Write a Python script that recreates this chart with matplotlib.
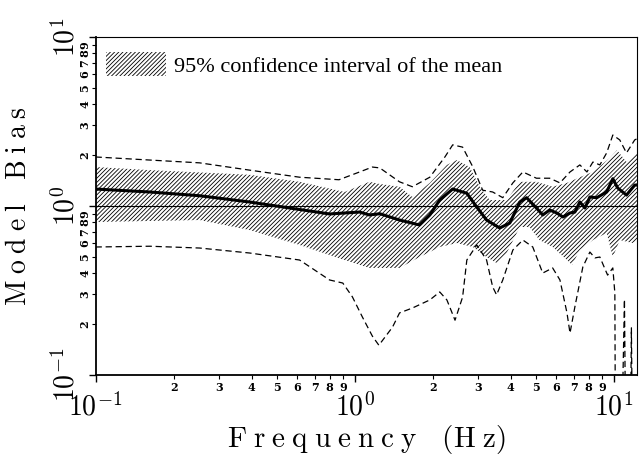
import numpy as np
import matplotlib
matplotlib.use('Agg')
import matplotlib.pyplot as plt
import matplotlib.ticker as mticker
from matplotlib.patches import Patch

plt.rcParams['mathtext.fontset'] = 'cm'
plt.rcParams['hatch.linewidth'] = 0.6

# mean model bias
f_mean = [0.1, 0.162, 0.252, 0.393, 0.561, 0.80, 1.045, 1.14, 1.25, 1.49, 1.78, 1.95,
          2.13, 2.39, 2.71, 2.96, 3.23, 3.63, 3.97, 4.34, 4.61, 5.03, 5.32, 5.66, 6.03,
          6.37, 6.78, 7.08, 7.4, 7.74, 8.09, 8.6, 9.39, 9.92, 10.35, 11.2, 12.05, 12.3]
bias_mean = [1.26, 1.21, 1.15, 1.056, 0.973, 0.897, 0.921, 0.885, 0.90, 0.826, 0.772, 0.885,
             1.085, 1.26, 1.19, 0.986, 0.826, 0.741, 0.793, 1.056, 1.12, 0.973, 0.885, 0.947, 0.909,
             0.861, 0.909, 0.921, 1.056, 0.973, 1.13, 1.12, 1.21, 1.45, 1.28, 1.16, 1.33, 1.33]

# 95% confidence interval of the mean (hatched band)
f_band_hi = [0.1, 0.162, 0.393, 0.613, 0.915, 1.14, 1.25, 1.49, 1.67, 1.95, 2.27, 2.48,
             2.78, 3.04, 3.32, 3.86, 4.34, 5.03, 5.81, 6.6, 7.4, 8.31, 9.65, 10.3, 11.2, 12.3]
band_hi = [1.70, 1.63, 1.53, 1.39, 1.21, 1.39, 1.35, 1.30, 1.13, 1.37, 1.75, 1.87,
           1.70, 1.30, 1.085, 1.085, 1.39, 1.39, 1.30, 1.37, 1.48, 1.59, 1.92, 2.14, 1.82, 2.06]
f_band_lo = [0.1, 0.252, 0.393, 0.613, 0.915, 1.14, 1.49, 1.78, 2.13, 2.48, 2.86, 3.23,
             3.53, 3.86, 4.34, 4.73, 5.17, 5.81, 6.6, 6.9, 7.4, 8.31, 9.39, 9.92, 10.55, 11.8, 12.3]
band_lo = [0.804, 0.826, 0.721, 0.588, 0.479, 0.43, 0.43, 0.499, 0.572, 0.604, 0.572, 0.499,
           0.46, 0.527, 0.751, 0.751, 0.629, 0.572, 0.479, 0.448, 0.549, 0.629, 0.692, 0.499, 0.629, 0.604, 0.62]

# dashed outer limits
f_up = [0.1, 0.162, 0.252, 0.393, 0.613, 0.87, 1.045, 1.17, 1.25, 1.49, 1.67, 1.95, 2.23,
        2.39, 2.61, 2.86, 3.12, 3.41, 3.73, 4.08, 4.46, 5.03, 5.66, 6.2, 6.78, 7.4, 7.88,
        8.31, 8.84, 9.39, 9.92, 10.55, 11.2, 12.05, 12.3]
dash_up = [1.95, 1.87, 1.80, 1.63, 1.48, 1.43, 1.59, 1.70, 1.68, 1.39, 1.30, 1.48, 1.95,
           2.30, 2.23, 1.70, 1.24, 1.21, 1.12, 1.37, 1.59, 1.46, 1.46, 1.37, 1.59, 1.75, 1.59,
           1.82, 1.75, 2.06, 2.63, 2.46, 2.06, 2.46, 2.5]
f_lo = [0.1, 0.162, 0.252, 0.393, 0.613, 0.80, 0.90, 0.98, 1.07, 1.17, 1.24, 1.40, 1.49,
        1.67, 1.95, 2.13, 2.27, 2.44, 2.61, 2.71, 2.96, 3.23, 3.41, 3.53, 3.73, 4.08, 4.46,
        4.87, 5.32, 5.81, 6.2, 6.6, 6.78, 7.08, 7.6, 8.09, 8.46, 8.84, 9.47, 9.92, 10.1,
        10.25, 11.0, 11.35, 11.7, 12.1]
dash_lo = [0.572, 0.578, 0.564, 0.527, 0.479, 0.365, 0.35, 0.29, 0.221, 0.17, 0.15, 0.192, 0.233,
           0.249, 0.278, 0.31, 0.278, 0.211, 0.289, 0.479, 0.588, 0.479, 0.332, 0.298, 0.365, 0.549, 0.629,
           0.572, 0.401, 0.43, 0.365, 0.233, 0.177, 0.253, 0.436, 0.534, 0.493, 0.499, 0.39, 0.43, 0.306,
           0.001, 0.28, 0.001, 0.19, 0.001]

fig = plt.figure(figsize=(6.39, 4.67), dpi=100)
ax = fig.add_axes([0.1496, 0.197, 0.8473, 0.7238])

band_x = np.concatenate([f_band_hi, f_band_lo[::-1]])
band_y = np.concatenate([band_hi, band_lo[::-1]])
ax.fill(band_x, band_y, facecolor='none', edgecolor='black', hatch='////////', linewidth=0)

ax.plot(f_up, dash_up, color='black', linestyle=(0, (5, 3)), linewidth=0.9)
ax.plot(f_lo, dash_lo, color='black', linestyle=(0, (5, 3)), linewidth=0.9)
ax.axhline(1.0, color='black', linewidth=0.8)
ax.plot(f_mean, bias_mean, color='black', linewidth=2.2)

ax.set_xscale('log')
ax.set_yscale('log')
ax.set_xlim(0.1, 12.3)
ax.set_ylim(0.1, 10)

def major_fmt(v, pos):
    return r'$10^{%d}$' % int(round(np.log10(v)))

def minor_fmt(v, pos):
    d = int(round(v / 10 ** np.floor(np.log10(v) + 1e-9)))
    return str(d)

for axis in (ax.xaxis, ax.yaxis):
    axis.set_major_locator(mticker.LogLocator(base=10))
    axis.set_minor_locator(mticker.LogLocator(base=10, subs=np.arange(2, 10)))
    axis.set_major_formatter(mticker.FuncFormatter(major_fmt))
    axis.set_minor_formatter(mticker.FuncFormatter(minor_fmt))

ax.tick_params(which='major', labelsize=20, length=5, width=1)
ax.tick_params(which='minor', labelsize=8, length=3, width=0.8)
ax.tick_params(axis='x', which='major', pad=8)
ax.tick_params(axis='x', which='minor', pad=2)
ax.tick_params(axis='y', which='major', pad=6)
ax.tick_params(axis='y', which='minor', pad=1)
for lab in ax.yaxis.get_ticklabels(which='both'):
    lab.set_rotation(90)
    lab.set_va('center')
for lab in ax.get_xticklabels(minor=True) + ax.get_yticklabels(minor=True):
    lab.set_fontweight('bold')
    lab.set_family('DejaVu Serif')

for side in ['left', 'bottom']:
    ax.spines[side].set_linewidth(1.3)
for side in ['top', 'right']:
    ax.spines[side].set_linewidth(0.8)

ax.set_xlabel(r'$\mathrm{F\;r\;e\;q\;u\;e\;n\;c\;y\ \ \ (H\;z)}$', fontsize=21)
ax.set_ylabel(r'$\mathrm{M\;o\;d\;e\;l\ \ \ B\;i\;a\;s}$', fontsize=20)
ax.xaxis.set_label_coords(0.4995, -0.142)
ax.yaxis.set_label_coords(-0.1175, 0.5)

handle = Patch(facecolor='none', edgecolor='black', hatch='////////', linewidth=0)
ax.legend([handle], ['95% confidence interval of the mean'], loc='upper left',
          bbox_to_anchor=(0.0192, 0.9556), frameon=False, borderaxespad=0, borderpad=0,
          handlelength=2.7, handleheight=1.3, handletextpad=0.35,
          prop={'family': 'Liberation Serif', 'size': 16})

fig.savefig('out.png', dpi=100)
